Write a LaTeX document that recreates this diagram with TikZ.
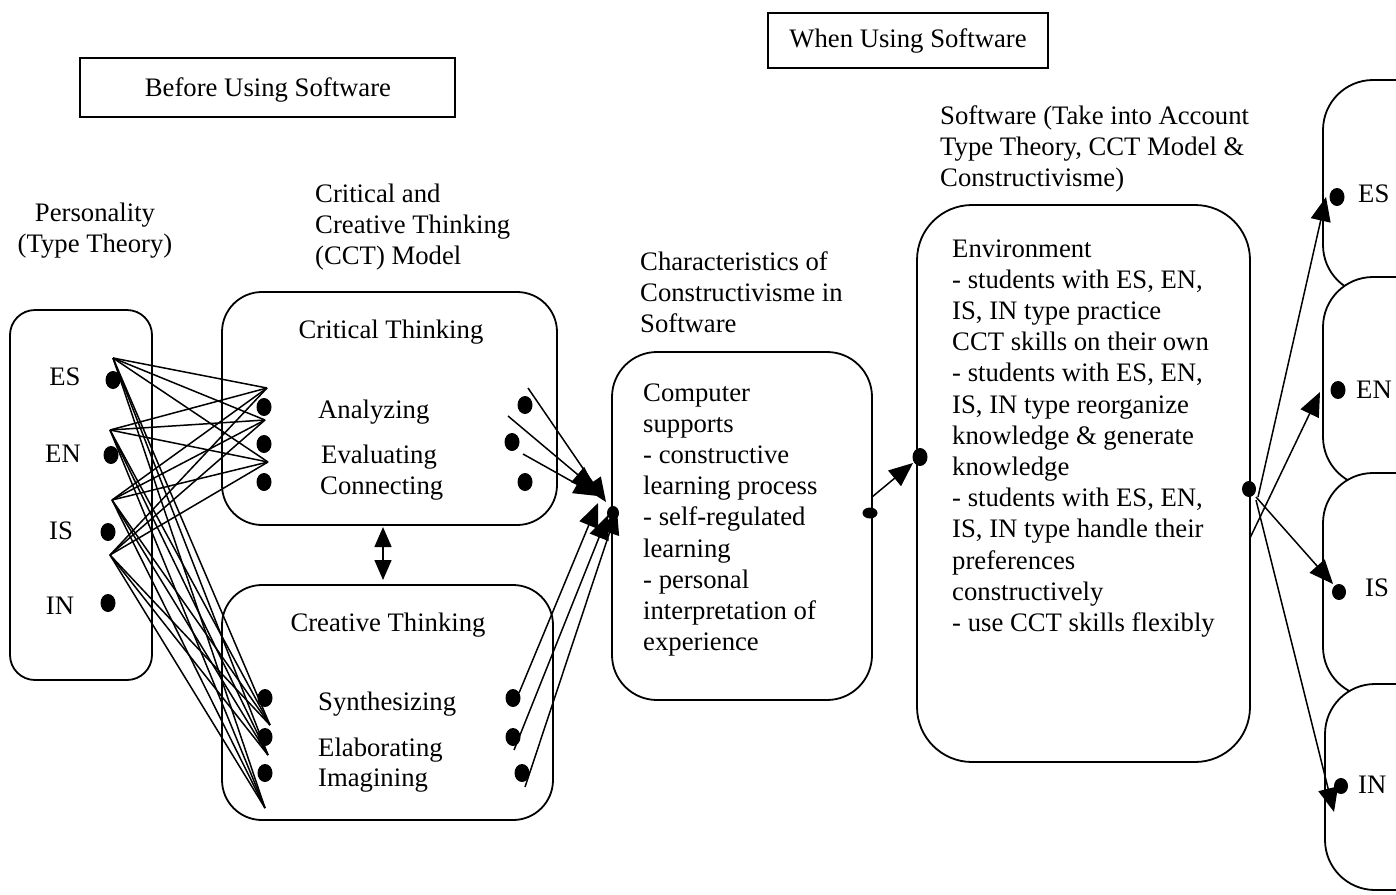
\documentclass[tikz,border=0pt]{standalone}
\usepackage{fontspec}
\setmainfont{Liberation Serif}
\usetikzlibrary{arrows.meta,shapes.geometric}
\newcommand{\mlines}[1]{\begin{tabular}[t]{@{}l@{}}#1\end{tabular}}
\newcommand{\mclines}[1]{\begin{tabular}[t]{@{}c@{}}#1\end{tabular}}
\begin{document}
\begin{tikzpicture}[x=1pt,y=-1pt,
  every node/.style={font=\fontsize{26.7}{31.2}\selectfont, inner sep=0pt},
  lbl/.style={anchor=base west},
  clbl/.style={anchor=base},
  frame/.style={draw, line width=1.8pt},
  rbox/.style={draw, line width=1.8pt, rounded corners=#1},
  rbox/.default=40pt,
  dot/.style={ellipse, fill=black, minimum width=15pt, minimum height=18pt, inner sep=0pt},
  link/.style={line width=1.5pt},
  arr/.style={line width=1.5pt, -{Triangle[length=24pt,width=20pt]}},
  darr/.style={line width=1.5pt, {Triangle[length=20pt,width=17pt]}-{Triangle[length=20pt,width=17pt]}},
]
\useasboundingbox (0,0) rectangle (1396,894);
\clip (0,0) rectangle (1396,894);

% header boxes
\draw[frame] (80,58) rectangle (455,117);
\node[clbl] (before) at (268,96) {Before Using Software};
\draw[frame] (768,13) rectangle (1048,68);
\node[clbl] (when) at (908,47) {When Using Software};

% titles
\node[clbl] (perst) at (95,221) {\mclines{Personality\\(Type Theory)}};
\node[lbl] (cctt) at (315,202) {\mlines{Critical and\\Creative Thinking\\(CCT) Model}};
\node[lbl] (chart) at (640,270) {\mlines{Characteristics of\\Constructivisme in\\Software}};
\node[lbl] (softt) at (940,124) {\mlines{Software (Take into Account\\Type Theory, CCT Model \&\\Constructivisme)}};

% main boxes
\draw[rbox=25pt] (10,310) rectangle (152,680);
\draw[rbox] (222,292) rectangle (557,525);
\draw[rbox] (222,585) rectangle (553,820);
\draw[rbox=45pt] (612,352) rectangle (872,700);
\draw[rbox=55pt] (917,205) rectangle (1250,762);

% right boxes
\draw[rbox=50pt, fill=white] (1323,80) rectangle (1460,295);
\draw[rbox=50pt, fill=white] (1323,277) rectangle (1460,487);
\draw[rbox=50pt, fill=white] (1323,473) rectangle (1460,697);
\draw[rbox=50pt, fill=white] (1325,684) rectangle (1460,890);

% personality labels and dots
\node[clbl] (lES) at (65,385) {ES};
\node[clbl] (lEN) at (63,462) {EN};
\node[clbl] (lIS) at (61,539) {IS};
\node[clbl] (lIN) at (60,614) {IN};
\node[dot] (pES) at (113,380) {};
\node[dot] (pEN) at (111,455) {};
\node[dot] (pIS) at (108,532) {};
\node[dot] (pIN) at (108,603) {};

% critical thinking
\node[clbl] (ctt) at (391,338) {Critical Thinking};
\node[lbl] (ana) at (318,418) {Analyzing};
\node[lbl] (eva) at (321,463) {Evaluating};
\node[lbl] (con) at (320,494) {Connecting};
\node[dot] (aL) at (264,407) {};
\node[dot] (eL) at (264,444) {};
\node[dot] (cL) at (264,482) {};
\node[dot] (aR) at (525,405) {};
\node[dot] (eR) at (512,442) {};
\node[dot] (cR) at (525,482) {};

% creative thinking
\node[clbl] (crt) at (388,631) {Creative Thinking};
\node[lbl] (syn) at (318,710) {Synthesizing};
\node[lbl] (ela) at (318,756) {Elaborating};
\node[lbl] (ima) at (318,786) {Imagining};
\node[dot] (sL) at (265,698) {};
\node[dot] (elL) at (265,737) {};
\node[dot] (iL) at (265,773) {};
\node[dot] (sR) at (513,698) {};
\node[dot] (elR) at (513,737) {};
\node[dot] (iR) at (522,773) {};

% middle box text
\node[lbl] (comp) at (643,401) {\mlines{Computer\\supports\\- constructive\\learning process\\- self-regulated\\learning\\- personal\\interpretation of\\experience}};
\node[dot, minimum width=12pt, minimum height=14pt] (mL) at (613,513) {};
\node[dot, minimum width=15pt, minimum height=11pt] (mR) at (870,513) {};

% software box text
\node[lbl] (env) at (952,257) {\mlines{Environment\\- students with ES, EN,\\IS, IN type practice\\CCT skills on their own\\- students with ES, EN,\\IS, IN type reorganize\\knowledge \& generate\\knowledge\\- students with ES, EN,\\IS, IN type handle their\\preferences\\constructively\\- use CCT skills flexibly}};
\node[dot] (sfL) at (920,457) {};
\node[dot, minimum width=14pt, minimum height=16pt] (sfR) at (1249,489) {};

% right labels
\node[dot] (rES) at (1337,197) {};
\node[dot] (rEN) at (1338,390) {};
\node[dot, minimum width=14pt, minimum height=16pt] (rIS) at (1339,592) {};
\node[dot, minimum width=14pt, minimum height=16pt] (rIN) at (1341,786) {};
\node[lbl] (tES) at (1358,202) {ES};
\node[lbl] (tEN) at (1356,398) {EN};
\node[lbl] (tIS) at (1365,596) {IS};
\node[lbl] (tIN) at (1358,793) {IN};

% crossing links
\coordinate (oES) at (113,358);
\coordinate (oEN) at (110,430);
\coordinate (oIS) at (112,500);
\coordinate (oIN) at (110,555);
\coordinate (tA) at (267,388);
\coordinate (tE) at (265,420);
\coordinate (tC) at (268,462);
\coordinate (tS) at (270,725);
\coordinate (tEl) at (268,755);
\coordinate (tI) at (265,808);
\foreach \o in {oES,oEN,oIS,oIN}
  \foreach \t in {tA,tE,tC,tS,tEl,tI}
    \draw[link] (\o) -- (\t);

% arrows into middle box
\coordinate (a1) at (528,388);
\coordinate (a2) at (508,416);
\coordinate (a3) at (523,454);
\coordinate (q1) at (606,502);
\coordinate (q2) at (596,490);
\coordinate (q3) at (598,496);
\coordinate (b1) at (519,693);
\coordinate (b2) at (514,750);
\coordinate (b3) at (525,787);
\coordinate (q4) at (598,503);
\coordinate (q5) at (608,515);
\coordinate (q6) at (617,510);
\draw[arr] (a1) -- (q1);
\draw[arr] (a2) -- (q2);
\draw[arr] (a3) -- (q3);
\draw[arr] (b1) -- (q4);
\draw[arr] (b2) -- (q5);
\draw[arr] (b3) -- (q6);

% double arrow
\coordinate (d1) at (383,527);
\coordinate (d2) at (383,580);
\draw[darr] (d1) -- (d2);

% middle to software
\coordinate (m1) at (872,497);
\coordinate (m2) at (913,463);
\draw[arr] (m1) -- (m2);

% software to right boxes
\coordinate (s1) at (1258,497);
\coordinate (s2) at (1250,538);
\coordinate (s3) at (1256,497);
\coordinate (s4) at (1256,500);
\coordinate (e1) at (1326,197);
\coordinate (e2) at (1320,392);
\coordinate (e3) at (1333,584);
\coordinate (e4) at (1334,812);
\draw[arr] (s1) -- (e1);
\draw[arr] (s2) -- (e2);
\draw[arr] (s3) -- (e3);
\draw[arr] (s4) -- (e4);
\end{tikzpicture}
\end{document}
